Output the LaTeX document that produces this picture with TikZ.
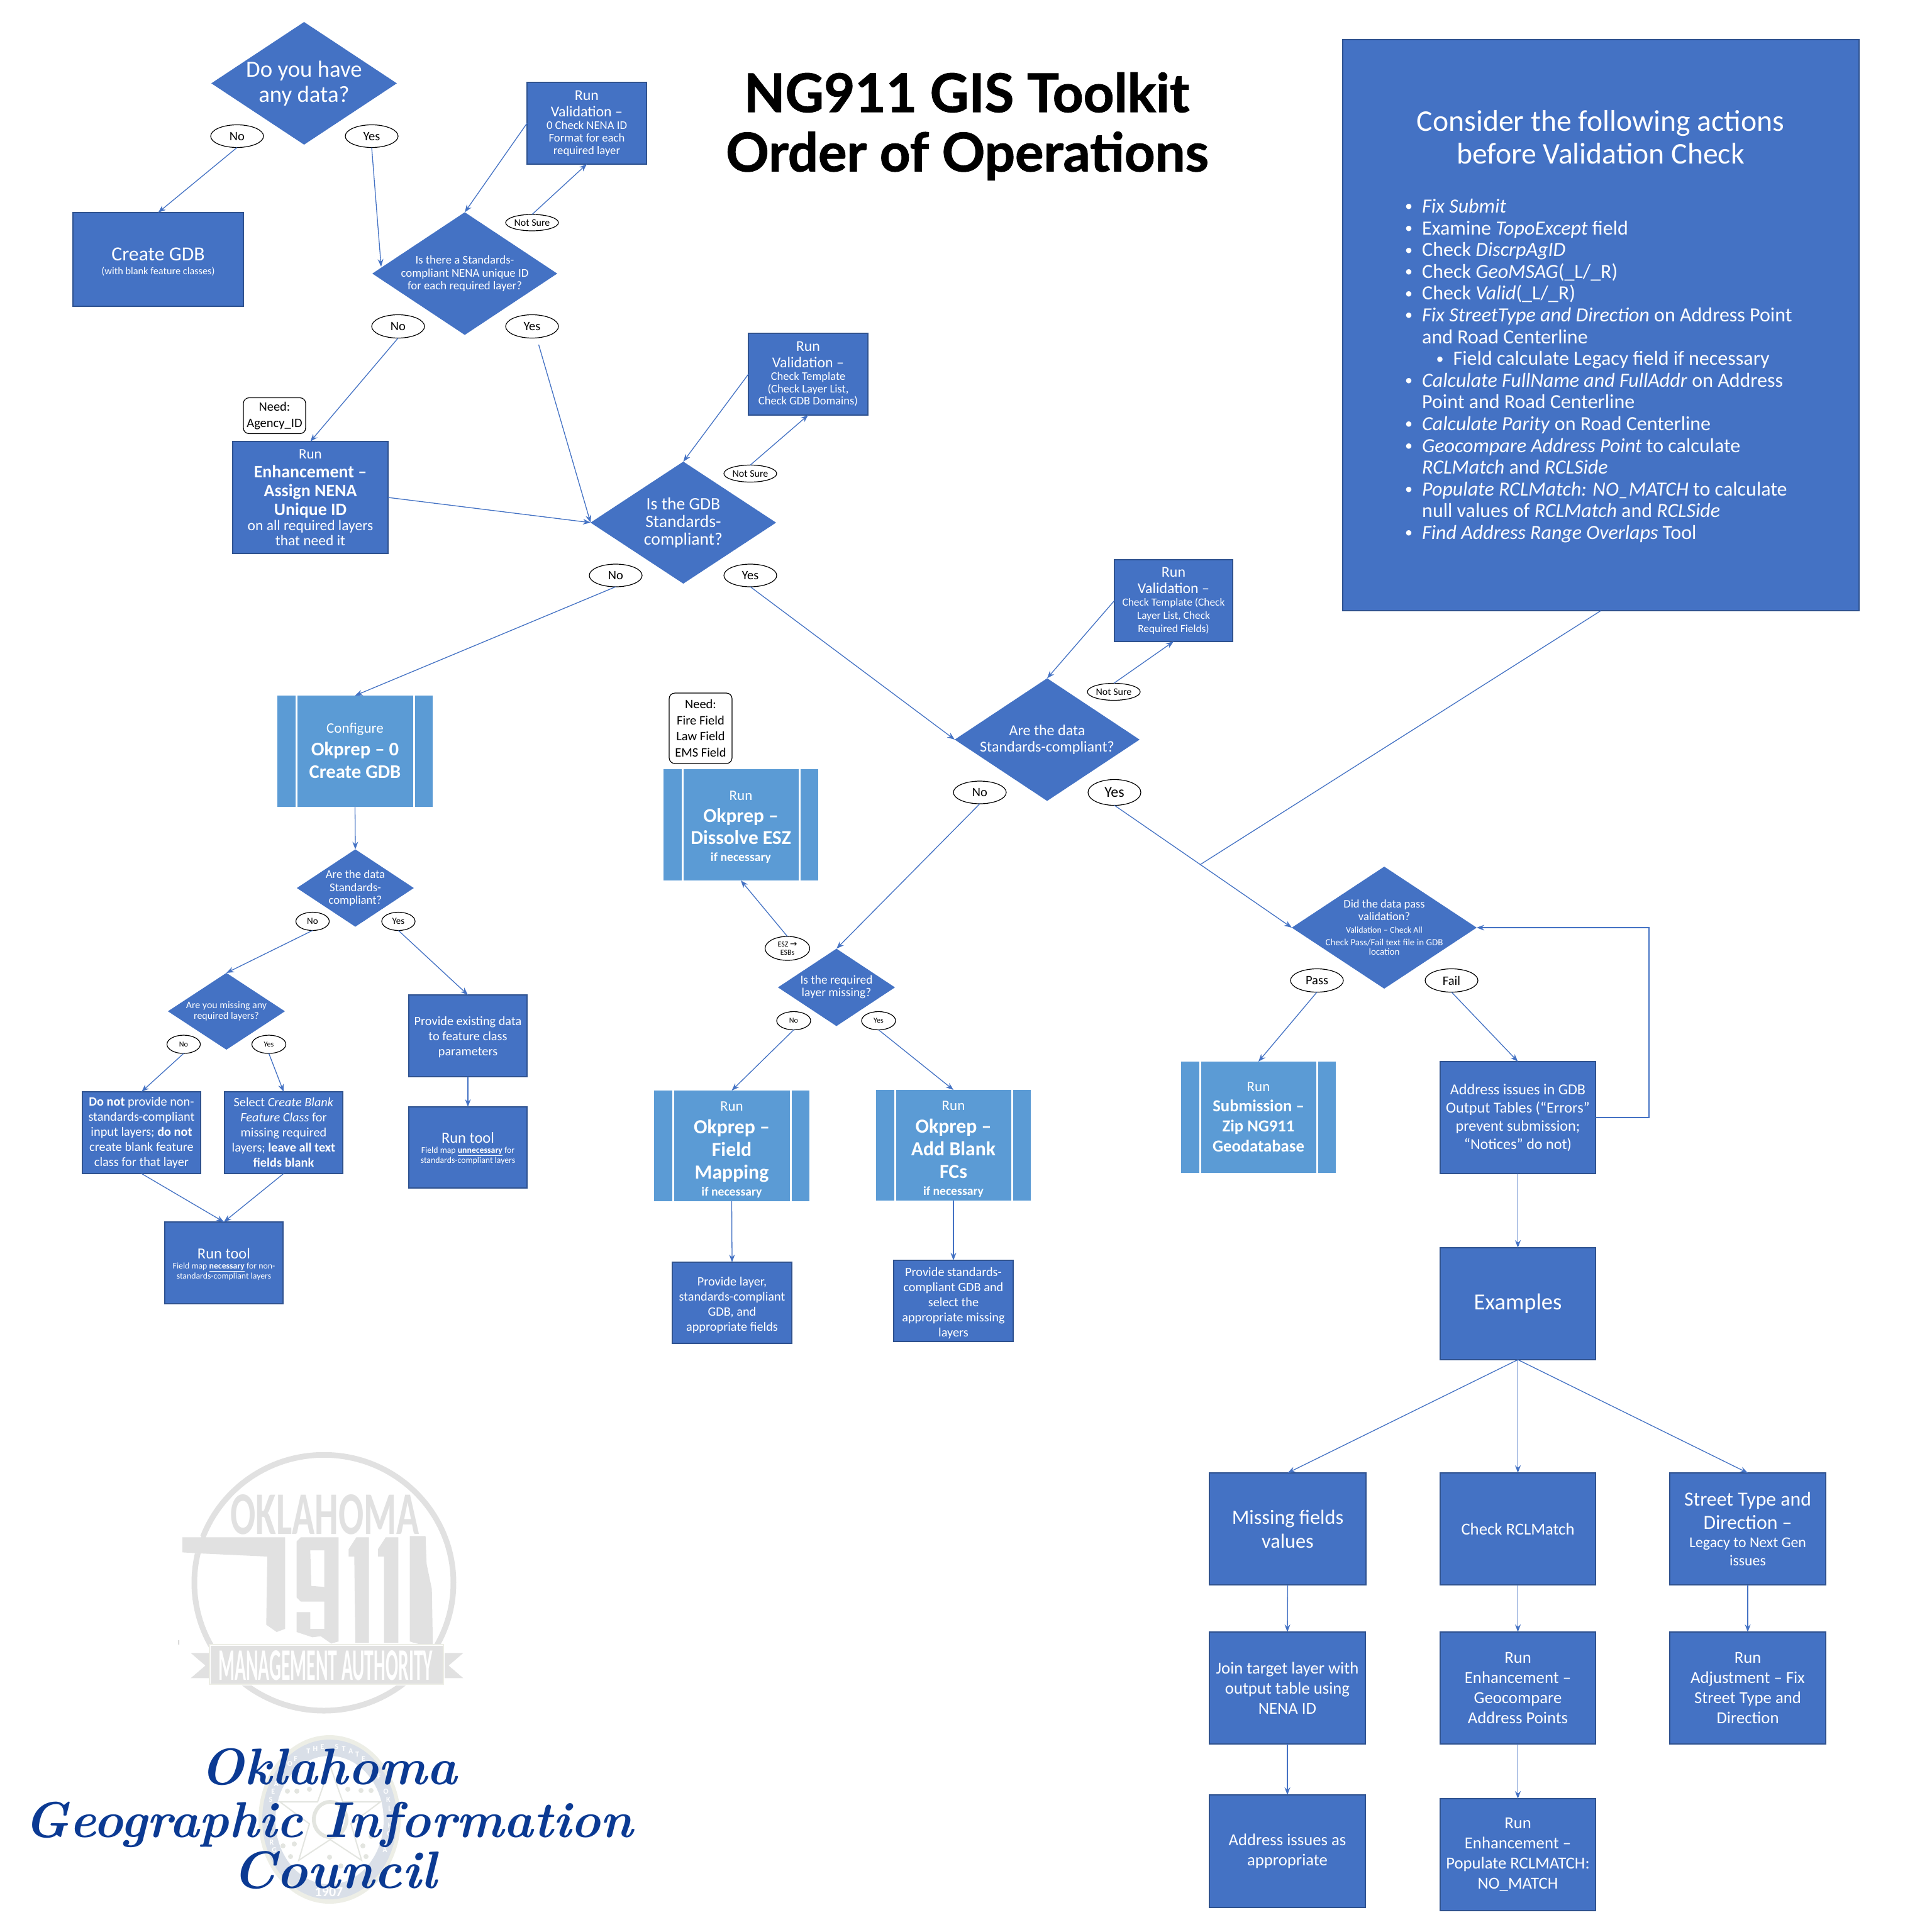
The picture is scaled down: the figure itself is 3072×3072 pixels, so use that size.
\documentclass[tikz,border=0pt]{standalone}
\usepackage{fontspec}
\usepackage{graphicx}
\usetikzlibrary{arrows.meta,shapes.geometric,calc}
\setmainfont{Carlito}
\newfontfamily\titlefont{Lato}[BoldFeatures={FakeBold=1.2}]
\newfontfamily\djv{DejaVu Sans}
\newfontfamily\scriptish{Latin Modern Roman}
\definecolor{boxblue}{HTML}{4472C4}
\definecolor{boxedge}{HTML}{2F528F}
\definecolor{prepblue}{HTML}{5B9BD5}
\definecolor{logogray}{HTML}{E1E1E1}
\definecolor{gicblue}{HTML}{0B3A93}
\definecolor{sealband}{HTML}{D9DFE8}
\definecolor{sealrim}{HTML}{EDEEE6}
\definecolor{sealmark}{HTML}{E3E5E0}
\newcommand{\fs}[2]{\fontsize{#1}{#2}\selectfont}
\newcommand{\Tl}[3]{{\fs{#1}{#2}#3\par}}
\newcommand{\Dot}{\raisebox{2.5pt}{\fs{24}{24}\textbullet}}
\newcommand{\Bul}[1]{\makebox[27pt][l]{\Dot}#1\par}
\newcommand{\Cnt}[1]{\hspace*{27pt}#1\par}
\newcommand{\SubBul}[1]{\hspace*{49.5pt}\makebox[27pt][l]{\Dot}#1\par}
% name, x1, y1, x2, y2, style, text
\newcommand{\Rct}[7]{\node[#6,minimum width={(#4-#2)*1pt},minimum height={(#5-#3)*1pt},text width={(#4-#2-4)*1pt}] (#1) at ({(#2+#4)/2},{(#3+#5)/2}) {#7};}
% name, x, y, w, h, font size, text
\newcommand{\Ovl}[7]{\node[ovalnode,minimum width={#4*1pt},minimum height={#5*1pt},font=\fs{#6}{#6}] (#1) at (#2,#3) {#7};}
\tikzset{
  box/.style={rectangle,draw=boxedge,line width=1.1pt,fill=boxblue,text=white,inner sep=0pt,outer sep=0pt,align=flush center},
  predef/.style={rectangle,fill=prepblue,text=white,inner sep=0pt,outer sep=0pt,align=flush center,
    path picture={
      \draw[white,line width=3pt] ([xshift=30pt]path picture bounding box.north west) -- ([xshift=30pt]path picture bounding box.south west);
      \draw[white,line width=3pt] ([xshift=-30pt]path picture bounding box.north east) -- ([xshift=-30pt]path picture bounding box.south east);}},
  dia/.style={diamond,fill=boxblue,inner sep=0pt,outer sep=0pt},
  diatext/.style={text=white,align=flush center,inner sep=0pt,text width=330pt},
  ovalnode/.style={ellipse,draw=black,line width=1.2pt,fill=white,text=black,inner sep=0pt,outer sep=0pt,align=center},
  needbox/.style={rectangle,rounded corners=9pt,draw=black,line width=1.2pt,fill=white,text=black,inner sep=0pt,outer sep=0pt,align=center},
  conn/.style={draw=boxblue,line width=1.3pt,-{Stealth[length=12pt,width=9pt]}},
  plainconn/.style={draw=boxblue,line width=1.3pt},
}
\begin{document}
\begin{tikzpicture}[x=1pt,y=-1pt]
\useasboundingbox (0,0) rectangle (3072,3072);
\fill[white] (0,0) rectangle (3072,3072);

% ---- title
\node[font=\titlefont\bfseries\fs{85}{85},text=black,inner sep=0pt] (title1) at (1537,147) {NG911 GIS Toolkit};
\node[font=\titlefont\bfseries\fs{85}{85},text=black,inner sep=0pt] (title2) at (1538,248) {Order of Operations};

% ---- big panel
\Rct{big}{2135}{63}{2956}{971}{box}{}
\node[text=white,align=center,inner sep=0pt,font=\fs{47.7}{52}] (bigtitle) at (2545,218) {Consider the following actions\\before Validation Check};
\node[text=white,anchor=north west,inner sep=0pt,text width=700pt,align=flush left] (biglist) at (2234,316) {\fs{32}{34.6}%
\Bul{\textit{Fix Submit}}
\Bul{Examine \textit{TopoExcept} field}
\Bul{Check \textit{DiscrpAgID}}
\Bul{Check \textit{GeoMSAG}(\_L/\_R)}
\Bul{Check \textit{Valid}(\_L/\_R)}
\Bul{\textit{Fix StreetType and Direction} on Address Point}
\Cnt{and Road Centerline}
\SubBul{Field calculate Legacy field if necessary}
\Bul{\textit{Calculate FullName and FullAddr} on Address}
\Cnt{Point and Road Centerline}
\Bul{\textit{Calculate Parity} on Road Centerline}
\Bul{\textit{Geocompare Address Point} to calculate}
\Cnt{\textit{RCLMatch} and \textit{RCLSide}}
\Bul{\textit{Populate RCLMatch: NO\_MATCH} to calculate}
\Cnt{null values of \textit{RCLMatch} and \textit{RCLSide}}
\Bul{\textit{Find Address Range Overlaps} Tool}};

% ---- diamonds
\node[dia,minimum width=295pt,minimum height=195pt,label={[diatext]center:\Tl{36.8}{40.6}{Do you have\\any data?}}] (d1) at (483.5,132.5) {};
\node[dia,minimum width=294pt,minimum height=195pt,label={[diatext]center:\Tl{18.8}{20.3}{Is there a Standards-\\compliant NENA unique ID\\for each required layer?}}] (d2) at (739,435) {};
\node[dia,minimum width=295pt,minimum height=194pt,label={[diatext]center:\Tl{27.7}{28}{Is the GDB\\Standards-\\compliant?}}] (d3) at (1086.5,831) {};
\node[dia,minimum width=294pt,minimum height=195pt,label={[diatext]center:\Tl{24.1}{25.5}{Are the data\\Standards-compliant?}}] (d4) at (1665,1176) {};
\node[dia,minimum width=186pt,minimum height=123pt,label={[diatext]center:\Tl{18.8}{20.6}{Are the data\\Standards-\\compliant?}}] (d5) at (565,1412) {};
\node[dia,minimum width=186pt,minimum height=122pt,label={[diatext]center:\Tl{15.9}{17}{Are you missing any\\required layers?}}] (d6) at (360,1608) {};
\node[dia,minimum width=186pt,minimum height=123pt,label={[diatext,yshift=1pt]center:\Tl{19.4}{20}{Is the required\\layer missing?}}] (d7) at (1330,1570) {};
\node[dia,minimum width=294pt,minimum height=194pt,label={[diatext]center:\Tl{18.5}{20}{Did the data pass\\validation?}\vspace{5pt}\Tl{14}{15}{Validation -- Check All}\vspace{5pt}\Tl{15}{15}{Check Pass/Fail text file in GDB\\location}}] (d8) at (2201,1475) {};

% ---- boxes, top
\Rct{create}{116}{338}{387}{487}{box}{\Tl{31.7}{36}{Create GDB}\Tl{16.3}{22}{(with blank feature classes)}\vspace{-8pt}}
\Rct{val1}{838}{131}{1028}{261}{box}{\Tl{23.9}{26}{Run\\Validation --}\Tl{18.7}{20}{0 Check NENA ID\\Format for each\\required layer}}
\Rct{enh}{370}{702}{617}{880}{box}{\Tl{23}{27}{Run}\Tl{27.9}{30}{\textbf{Enhancement --}\\\textbf{Assign NENA}\\\textbf{Unique ID}}\Tl{23.5}{24}{on all required layers\\that need it}}
\Rct{val2}{1190}{530}{1380}{660}{box}{\Tl{23.9}{25.7}{Run\\Validation --}\Tl{18.5}{19.8}{Check Template\\(Check Layer List,\\Check GDB Domains)}}
\Rct{val3}{1772}{890}{1960}{1020}{box}{\Tl{23.9}{26}{Run\\Validation --}\Tl{17.4}{20.6}{Check Template (Check\\Layer List, Check\\Required Fields)}}
\node[needbox,minimum width=99pt,minimum height=57pt,font=\fs{20.5}{26.7}] (need1) at (436.5,661) {Need:\\Agency\_ID};
\node[needbox,minimum width=100pt,minimum height=112pt,font=\fs{20.5}{25.5}] (need2) at (1114,1158) {Need:\\Fire Field\\Law Field\\EMS Field};

% ---- predefined process
\Rct{okp0}{441}{1106}{688}{1283}{predef}{\Tl{23}{30}{Configure}\Tl{30.7}{36}{\textbf{Okprep -- 0}\\\textbf{Create GDB}}\vspace{2pt}}
\Rct{okdis}{1055}{1223}{1301}{1400}{predef}{\Tl{23}{30}{Run}\Tl{31.4}{35}{\textbf{Okprep --}\\\textbf{Dissolve ESZ}}\Tl{19.7}{27}{\textbf{if necessary}}\vspace{-8pt}}
\Rct{okfield}{1040}{1734}{1287}{1910}{predef}{\Tl{23}{28}{Run}\Tl{31.8}{36}{\textbf{Okprep --}\\\textbf{Field}\\\textbf{Mapping}}\Tl{19.7}{27}{\textbf{if necessary}}\vspace{-12pt}}
\Rct{okadd}{1393}{1733}{1639}{1909}{predef}{\Tl{23}{28}{Run}\Tl{31.8}{36}{\textbf{Okprep --}\\\textbf{Add Blank}\\\textbf{FCs}}\Tl{19.7}{27}{\textbf{if necessary}}\vspace{-12pt}}
\Rct{subm}{1878}{1688}{2124}{1865}{predef}{\Tl{23}{30}{Run}\Tl{26.7}{32}{\textbf{Submission --}\\\textbf{Zip NG911}\\\textbf{Geodatabase}}}

% ---- boxes, lower left
\Rct{donot}{131}{1736}{319}{1866}{box}{\Tl{20.3}{24}{\textbf{Do not} provide non-\\standards-compliant\\input layers; \textbf{do not}\\create blank feature\\class for that layer}}
\Rct{select}{357}{1736}{545}{1866}{box}{\Tl{20.3}{24}{Select \textit{Create Blank}\\\textit{Feature Class} for\\missing required\\layers; \textbf{leave all text}\\\textbf{fields blank}}}
\Rct{runl}{262}{1943}{450}{2073}{box}{\Tl{24.5}{28}{Run tool}\Tl{13.8}{16}{Field map \textbf{\underline{necessary}} for non-\\standards-compliant layers}\vspace{-4pt}}
\Rct{exist}{650}{1582}{838}{1712}{box}{\Tl{20.3}{24}{Provide existing data\\to feature class\\parameters}\vspace{-4pt}}
\Rct{runr}{650}{1760}{838}{1889}{box}{\Tl{24.5}{28}{Run tool}\Tl{13.8}{16}{Field map \textbf{\underline{unnecessary}} for\\standards-compliant layers}\vspace{-4pt}}
\Rct{prlayer}{1069}{2007}{1259}{2136}{box}{\Tl{20.3}{24}{Provide layer,\\standards-compliant\\GDB, and\\appropriate fields}\vspace{-8pt}}
\Rct{prstd}{1421}{2004}{1611}{2133}{box}{\Tl{20.3}{24}{Provide standards-\\compliant GDB and\\select the\\appropriate missing\\layers}\vspace{-8pt}}

% ---- boxes, lower right
\Rct{addr}{2290}{1688}{2537}{1866}{box}{\Tl{24.2}{29}{Address issues in GDB\\Output Tables (``Errors''\\prevent submission;\\``Notices'' do not)}}
\Rct{examples}{2290}{1984}{2537}{2162}{box}{\Tl{36.6}{40}{Examples}}
\Rct{missing}{1923}{2342}{2172}{2520}{box}{\Tl{32.3}{38}{Missing fields\\values}}
\Rct{check}{2290}{2342}{2537}{2520}{box}{\Tl{26.7}{32}{Check RCLMatch}}
\Rct{street}{2655}{2342}{2903}{2520}{box}{\Tl{31.8}{37.6}{Street Type and\\Direction --}\Tl{23.8}{29}{Legacy to Next Gen\\issues}}
\Rct{join}{1923}{2595}{2171}{2773}{box}{\Tl{26.7}{32}{Join target layer with\\output table using\\NENA ID}}
\Rct{geo}{2290}{2595}{2537}{2773}{box}{\Tl{26.7}{32}{Run\\Enhancement --\\Geocompare\\Address Points}}
\Rct{adj}{2655}{2595}{2903}{2773}{box}{\Tl{26.7}{32}{Run\\Adjustment -- Fix\\Street Type and\\Direction}}
\Rct{addrapp}{1923}{2854}{2171}{3033}{box}{\Tl{26.7}{32}{Address issues as\\appropriate}}
\Rct{pop}{2290}{2860}{2537}{3038}{box}{\Tl{26.7}{32}{Run\\Enhancement --\\Populate RCLMATCH:\\NO\_MATCH}}

% ---- ovals
\Ovl{o1n}{377}{216.5}{84}{36}{20.5}{No}
\Ovl{o1y}{591}{216.5}{84}{36}{20.5}{Yes}
\Ovl{o2s}{846}{354}{84}{26}{16}{Not Sure}
\Ovl{o2n}{633}{519}{84}{37}{20.5}{No}
\Ovl{o2y}{846}{519}{84}{37}{20.5}{Yes}
\Ovl{o3s}{1193}{753}{84}{27}{16}{Not Sure}
\Ovl{o3n}{979}{915}{84}{36}{20.5}{No}
\Ovl{o3y}{1193}{915}{84}{36}{20.5}{Yes}
\Ovl{o4s}{1771}{1100}{84}{27}{16}{Not Sure}
\Ovl{o4n}{1558}{1260}{84}{36}{20.5}{No}
\Ovl{o4y}{1772}{1260}{84}{41}{24}{Yes}
\Ovl{o5n}{497}{1465}{53}{29}{15}{No}
\Ovl{o5y}{633.5}{1465}{53}{29}{15}{Yes}
\Ovl{o6n}{292}{1660.5}{53}{29}{12}{No}
\Ovl{o6y}{427.5}{1660.5}{54}{29}{12}{Yes}
\Ovl{o7n}{1262}{1623}{54}{29}{12}{No}
\Ovl{o7y}{1397}{1623}{54}{29}{12}{Yes}
\node[ovalnode,minimum width=71pt,minimum height=38pt,font=\fs{12}{13.5}] (oesz) at (1252,1508) {ESZ {\djv\fs{13.5}{13.5}→}\\ESBs};
\Ovl{o8p}{2094}{1559}{84}{37}{20.5}{Pass}
\Ovl{o8f}{2308}{1559}{84}{37}{20.5}{Fail}

% ---- free ends
\coordinate (c2in) at (606,424);
\coordinate (cyes2) at (856.5,548);
\coordinate (cjoin) at (1908,1375);
\coordinate (cloopa) at (2622,1777);
\coordinate (cloopb) at (2622,1475);

% ---- connectors
\draw[conn] (o1n.south) -- (create.north);
\draw[conn] (o1y.south) -- (c2in);
\draw[conn] (val1.west) -- (d2.north);
\draw[conn] (o2s.north) -- (val1.south);
\draw[conn] (o2n.south) -- (enh.north);
\draw[conn] (cyes2) -- (d3.west);
\draw[conn] (enh.east) -- (d3.west);
\draw[conn] (val2.west) -- (d3.north);
\draw[conn] (o3s.north) -- (val2.south);
\draw[conn] (o3n.south) -- (okp0.north);
\draw[conn] (o3y.south) -- (d4.west);
\draw[conn] (val3.west) -- (d4.north);
\draw[conn] (o4s.north) -- (val3.south);
\draw[conn] (o4n.south) -- (d7.north);
\draw[conn] (o4y.south) -- (d8.west);
\draw[plainconn] (big.south) -- (cjoin);
\draw[conn] (okp0.south) -- (d5.north);
\draw[conn] (o5n.south) -- (d6.north);
\draw[conn] (o5y.south) -- (exist.north);
\draw[conn] (o6n.south) -- (donot.north);
\draw[conn] (o6y.south) -- (select.north);
\draw[conn] (donot.south) -- (runl.north);
\draw[conn] (select.south) -- (runl.north);
\draw[conn] (exist.south) -- (runr.north);
\draw[conn] (oesz.north) -- (okdis.south);
\draw[conn] (o7n.south) -- (okfield.north);
\draw[conn] (o7y.south) -- (okadd.north);
\draw[conn] (okfield.south) -- (prlayer.north);
\draw[conn] (okadd.south) -- (prstd.north);
\draw[conn] (o8p.south) -- (subm.north);
\draw[conn] (o8f.south) -- (addr.north);
\draw[conn] (addr.east) -- (cloopa) -- (cloopb) -- (d8.east);
\draw[conn] (addr.south) -- (examples.north);
\draw[conn] (examples.south) -- (missing.north);
\draw[conn] (examples.south) -- (check.north);
\draw[conn] (examples.south) -- (street.north);
\draw[conn] (missing.south) -- (join.north);
\draw[conn] (join.south) -- (addrapp.north);
\draw[conn] (check.south) -- (geo.north);
\draw[conn] (geo.south) -- (pop.north);
\draw[conn] (street.south) -- (adj.north);

% ---- 911 logo
\begin{scope}[shift={(270,2300)},x=0.33333pt,y=-0.33333pt]
  \draw[logogray,line width=9pt] (735,650) ellipse [x radius=618,y radius=610];
  \fill[white] (60,427) rectangle (150,510);
  \fill[logogray] (60,433) -- (550,433) -- (550,870) -- (510,885) -- (460,850) -- (465,525) -- (145,510) -- (60,505) -- cycle;
  \fill[logogray] (1145,427) -- (1220,427) -- (1225,560) -- (1250,680) -- (1255,960) -- (1200,945) -- (1160,935) -- (1145,930) -- cycle;
  \fill[logogray,even odd rule] (625,433) -- (805,433) -- (805,930) -- (770,940) -- (720,905) -- (680,910) -- (605,885) -- (605,790) -- (670,790) -- (670,870) -- (737,870) -- (737,740) -- (625,740) -- (605,720) -- (605,453) -- cycle
     (670,495) -- (737,495) -- (737,670) -- (675,665) -- cycle;
  \fill[logogray] (853,490) -- (890,433) -- (950,433) -- (950,937) -- (885,937) -- (880,525) -- (853,525) -- cycle;
  \fill[logogray] (993,490) -- (1030,433) -- (1090,433) -- (1090,937) -- (1022,937) -- (1022,525) -- (993,525) -- cycle;
  \node[inner sep=0pt,text=logogray] (logotop) at (740,325) {\resizebox{300pt}{63pt}{\bfseries OKLAHOMA}};
  \fill[logogray] (190,985) -- (100,985) -- (170,1045) -- (100,1105) -- (190,1105) -- cycle;
  \fill[logogray] (1305,985) -- (1400,985) -- (1330,1045) -- (1400,1105) -- (1305,1105) -- cycle;
  \draw[fill=logogray,draw=white,line width=3pt] (190,945) rectangle (1305,1135);
  \draw[draw=sealrim,line width=2pt] (190,945) rectangle (1305,1135);
  \node[inner sep=0pt,text=white] (logoban) at (743,1045) {\resizebox{341pt}{47pt}{\bfseries MANAGEMENT AUTHORITY}};
  \fill[gray] (42,925) rectangle (46,945);
\end{scope}

% ---- seal
\fill[sealrim] (524,2893) ellipse [x radius=113,y radius=134];
\fill[sealband] (524,2893) ellipse [x radius=107,y radius=127];
\fill[white] (524,2894) ellipse [x radius=86,y radius=102];
\foreach \ch [count=\ci from 0] in {G,R,E,A,T,,S,E,A,L,,O,F,,T,H,E,,S,T,A,T,E,,O,F,,O,K,L,A,H,O,M,A}{
  \pgfmathsetmacro{\ca}{205-\ci*230/34}
  \node[inner sep=0pt,text=white,font=\bfseries\fs{12}{12}] (seal\ci) at ({524+97*cos(\ca)},{2893-116*sin(\ca)}) {\ch};
}
\node[font=\bfseries\fs{22}{22},text=white,inner sep=0pt] (sealyear) at (523,3008) {1907};
\draw[sealmark,line width=2pt,line join=miter] (525,2808) -- (545,2865) -- (605,2865) -- (558,2900) -- (575,2958) -- (525,2925) -- (475,2958) -- (492,2900) -- (445,2865) -- (505,2865) -- cycle;
\draw[sealmark,line width=6pt] (525,2893) ellipse [x radius=26,y radius=28];
\foreach \sx/\sy in {457/2848,472/2848,492/2845,553/2845,574/2847,590/2847,450/2935,468/2932,577/2935,590/2920,462/2952,582/2952,524/2953,505/2967,542/2967}{
  \fill[sealmark] (\sx,\sy) circle [radius=4];
}

% ---- council name
\node[inner sep=0pt,text=gicblue,anchor=base,font=\scriptish\bfseries\itshape] (gic1) at (523,2837) {\resizebox{408pt}{!}{Oklahoma}};
\node[inner sep=0pt,text=gicblue,anchor=base,font=\scriptish\bfseries\itshape] (gic2) at (523,2921) {\resizebox{968pt}{!}{Geographic Information}};
\node[inner sep=0pt,text=gicblue,anchor=base,font=\scriptish\bfseries\itshape] (gic3) at (532,3002) {\resizebox{324pt}{!}{Council}};
\end{tikzpicture}
\end{document}
